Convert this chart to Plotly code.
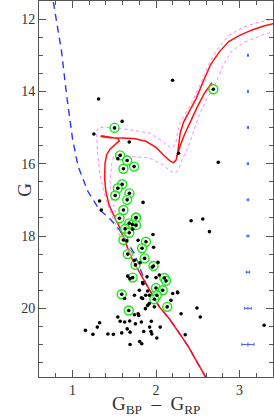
import plotly.graph_objects as go

# ---------------- data ----------------
# cluster members (green-ringed)
mem_color = [1.504, 2.686, 1.571, 1.655, 1.61, 1.738, 1.595, 1.543, 1.682, 1.512, 1.655, 1.61,
             1.762, 1.563, 1.68, 1.72, 1.76, 1.76, 1.63, 1.61, 1.68, 1.88, 1.833, 1.662, 1.864,
             1.754, 1.97, 1.721, 2.10, 2.12, 2.0, 2.08, 2.01, 1.98, 2.134, 1.59, 1.674]
mem_g = [15.01, 13.94, 15.77, 15.91, 16.14, 16.08, 16.57, 16.68, 16.82, 16.88, 17.0, 17.28,
         17.49, 17.51, 17.65, 17.68, 17.50, 17.70, 17.80, 18.11, 17.91, 18.16, 18.34, 18.50, 18.62,
         18.80, 18.83, 19.15, 19.16, 19.24, 19.44, 19.50, 19.64, 19.75, 19.96, 19.61, 20.06]

# field stars (black only)
fld_color = [1.313, 1.595, 2.198, 1.257, 1.68, 2.27, 2.745, 1.845, 1.325, 1.345, 2.42, 2.56,
             2.64, 1.964, 1.786, 1.971, 2.024, 1.543, 1.65, 1.72, 1.742, 1.81, 1.956, 2.04,
             1.893, 1.662, 1.69, 1.84, 2.0, 1.801, 1.90, 1.625, 1.742, 1.84, 1.92, 2.257,
             2.179, 1.90, 1.845, 1.825, 1.876, 2.20, 2.26, 2.30, 2.49, 2.53, 2.35, 3.293,
             1.786, 1.825, 1.944, 1.924, 2.05, 1.853, 2.01, 1.805, 1.83, 1.742, 1.543, 1.571,
             1.625, 1.685, 1.655, 1.59, 1.69, 1.325, 1.298, 1.155, 1.245, 1.424, 1.49, 1.69,
             1.754, 1.793, 1.873, 1.92, 1.94, 1.95, 1.98]
fld_g = [14.21, 14.83, 13.69, 15.18, 15.40, 15.71, 15.96, 17.07, 17.03, 17.28, 17.58, 17.53,
         17.88, 17.96, 18.12, 18.31, 18.73, 15.86, 18.13, 17.81, 18.67, 18.74, 18.86, 19.08,
         19.13, 19.11, 19.18, 19.29, 19.15, 19.50, 19.52, 19.73, 19.64, 19.73, 19.64, 19.55,
         19.78, 19.92, 19.32, 19.71, 19.64, 19.59, 19.57, 20.15, 19.99, 20.24, 20.73, 20.47,
         20.15, 20.38, 20.36, 20.52, 20.52, 20.64, 20.82, 20.92, 20.98, 20.18, 20.24, 20.36,
         20.38, 20.35, 20.57, 20.68, 20.66, 20.40, 20.52, 20.61, 20.72, 20.71, 20.72, 21.00,
         20.43, 20.20, 20.01, 19.87, 20.64, 20.71, 19.96]

# best-fit isochrone (main branch)
iso_color = [2.63, 2.38, 2.16, 2.04, 1.88, 1.72, 1.62, 1.56, 1.50, 1.44, 1.40, 1.385, 1.39,
             1.41, 1.45, 1.52, 1.56, 1.55, 1.45, 1.35, 1.34, 1.45, 1.60, 1.75, 1.88, 2.00,
             2.10, 2.17, 2.21, 2.24, 2.26, 2.27, 2.29, 2.33, 2.40, 2.48, 2.57, 2.655, 2.76,
             2.87, 3.00, 3.15, 3.29, 3.45]
iso_g = [22.05, 21.03, 20.29, 19.96, 19.32, 18.67, 18.10, 17.74, 17.45, 17.15, 16.77, 16.40, 16.00,
         15.75, 15.60, 15.47, 15.37, 15.31, 15.26, 15.23, 15.25, 15.28, 15.29, 15.31, 15.38, 15.55,
         15.78, 15.93, 15.97, 15.90, 15.70, 15.45, 15.15, 14.85, 14.55, 14.20, 13.70, 13.25, 12.90,
         12.62, 12.45, 12.30, 12.19, 12.10]
# isochrone second (parallel) giant branch piece
iso2_color = [2.25, 2.29, 2.34, 2.41, 2.49, 2.58, 2.67]
iso2_g = [15.80, 15.50, 15.20, 14.85, 14.45, 14.05, 13.76]

# neighbouring isochrones (dotted)
up_color = [1.62, 1.50, 1.40, 1.33, 1.30, 1.29, 1.31, 1.40, 1.55, 1.68, 1.92, 2.08, 2.17, 2.21,
            2.24, 2.26, 2.29, 2.34, 2.43, 2.53, 2.63, 2.73, 2.87, 3.05, 3.21, 3.40]
up_g = [18.30, 17.60, 17.00, 16.30, 15.70, 15.10, 15.00, 14.99, 15.02, 15.06, 15.15, 15.38, 15.55,
        15.55, 15.40, 15.10, 14.85, 14.65, 14.30, 13.80, 13.25, 12.85, 12.45, 12.22, 12.10, 12.00]
lo_color = [1.66, 1.55, 1.47, 1.45, 1.47, 1.50, 1.58, 1.68, 1.92, 2.08, 2.18, 2.24, 2.28, 2.32,
            2.38, 2.45, 2.52, 2.61, 2.71, 2.80, 2.90, 3.05, 3.29, 3.42]
lo_g = [18.30, 17.60, 17.00, 16.50, 16.00, 15.75, 15.72, 15.80, 15.84, 16.03, 16.22, 16.25, 16.10,
        15.85, 15.57, 15.10, 14.64, 14.20, 13.80, 13.30, 12.90, 12.65, 12.42, 12.35]

# ZAMS-like reference sequence (dashed)
zams_color = [0.755, 0.769, 0.869, 0.929, 1.00, 1.067, 1.186, 1.325, 1.444, 1.563, 1.74, 1.88,
              2.04, 2.16, 2.38, 2.63]
zams_g = [11.2, 11.49, 12.88, 14.08, 15.29, 16.07, 16.77, 17.28, 17.51, 17.83, 18.48, 19.32,
          19.96, 20.29, 21.03, 22.05]

# photometric errors
err_mag = [13, 14, 15, 16, 17, 18, 19, 20, 21]
err_color_pos = [3.1] * 9
err_color = [0.006, 0.006, 0.007, 0.008, 0.01, 0.012, 0.02, 0.04, 0.072]
err_g = [0.004, 0.004, 0.005, 0.006, 0.008, 0.01, 0.015, 0.035, 0.06]

# ---------------- figure ----------------
fig = go.Figure()
fig.add_trace(go.Scatter(x=zams_color, y=zams_g, mode="lines",
                         line=dict(color="#2536ff", width=1.4, dash="7px,5px")))
fig.add_trace(go.Scatter(x=up_color, y=up_g, mode="lines",
                         line=dict(color="#ff80ff", width=1, dash="dot")))
fig.add_trace(go.Scatter(x=lo_color, y=lo_g, mode="lines",
                         line=dict(color="#ff80ff", width=1, dash="dot")))
fig.add_trace(go.Scatter(x=iso_color, y=iso_g, mode="lines",
                         line=dict(color="#ff1010", width=1.5)))
fig.add_trace(go.Scatter(x=iso2_color, y=iso2_g, mode="lines",
                         line=dict(color="#ff1010", width=1.5)))
fig.add_trace(go.Scatter(x=mem_color, y=mem_g, mode="markers",
                         marker=dict(symbol="circle", size=9, color="rgba(220,255,220,0.5)",
                                     line=dict(color="#22e022", width=1.4))))
fig.add_trace(go.Scatter(x=mem_color + fld_color, y=mem_g + fld_g, mode="markers",
                         marker=dict(symbol="circle", size=3.6, color="black", line=dict(width=0))))
fig.add_trace(go.Scatter(x=err_color_pos, y=err_mag, mode="markers",
                         marker=dict(size=1, color="#4a5cff"),
                         error_x=dict(type="data", array=err_color, color="#4a5cff",
                                      thickness=1, width=1.5),
                         error_y=dict(type="data", array=err_g, color="#4a5cff",
                                      thickness=1, width=0)))

axis_font = dict(family="Liberation Serif", size=14, color="#333333")
fig.update_xaxes(range=[0.6, 3.4], tick0=0, dtick=1, ticks="inside", ticklen=7, tickwidth=1,
                 tickcolor="#555555", minor=dict(dtick=0.2, ticklen=4, ticks="inside",
                                                 tickcolor="#555555"),
                 showline=True, linecolor="#555555", linewidth=1, mirror="allticks",
                 showgrid=False, zeroline=False, tickfont=axis_font)
fig.update_yaxes(range=[21.9, 11.5], tick0=0, dtick=2, ticks="inside", ticklen=7, tickwidth=1,
                 tickcolor="#555555", minor=dict(dtick=0.5, ticklen=4, ticks="inside",
                                                 tickcolor="#555555"),
                 showline=True, linecolor="#555555", linewidth=1, mirror="allticks",
                 showgrid=False, zeroline=False, tickfont=axis_font)

fig.update_layout(width=274, height=417, margin=dict(l=39, r=1, t=1, b=40),
                  plot_bgcolor="white", paper_bgcolor="white", showlegend=False,
                  annotations=[
                      dict(text="G", x=-0.115, y=0.497, xref="paper", yref="paper",
                           showarrow=False, textangle=-90,
                           font=dict(family="Liberation Serif", size=19, color="#333333")),
                      dict(text="G<sub>BP</sub>\u00a0\u00a0\u2013\u00a0\u00a0G<sub>RP</sub>",
                           x=0.504, y=-0.074, xref="paper", yref="paper", showarrow=False,
                           yanchor="middle",
                           font=dict(family="Liberation Serif", size=19, color="#333333")),
                  ])

fig.write_html("out.html", config={"displayModeBar": False},
               post_script="document.body.style.margin='0';document.body.style.overflow='hidden';")
